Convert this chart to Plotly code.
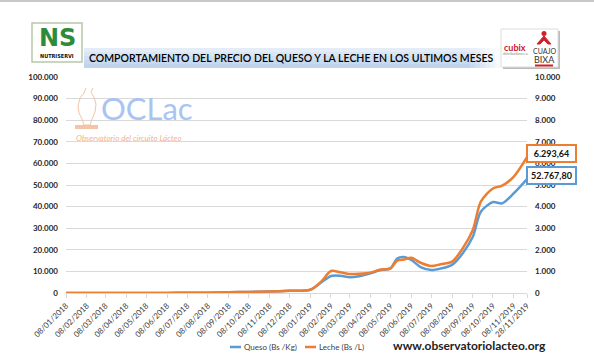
import plotly.graph_objects as go

# ---------------- data ----------------
dates = [
    "2018-01-08", "2018-02-08", "2018-03-08", "2018-04-08", "2018-05-08", "2018-06-08",
    "2018-07-08", "2018-08-08", "2018-09-08", "2018-10-08", "2018-11-08", "2018-12-08",
    "2019-01-08", "2019-01-25", "2019-02-08", "2019-02-22", "2019-03-08", "2019-03-22",
    "2019-04-08", "2019-04-22", "2019-05-08", "2019-05-18", "2019-05-28", "2019-06-08",
    "2019-06-22", "2019-07-08", "2019-07-22", "2019-08-08", "2019-08-24", "2019-09-08",
    "2019-09-20", "2019-10-08", "2019-10-22", "2019-11-08", "2019-11-28",
]
queso = [
    5, 8, 12, 18, 30, 50, 80, 150, 350, 500, 700, 1000,
    1500, 5000, 7900, 8000, 7300, 7800, 9100, 10500, 11400, 16000, 16700, 15300,
    12000, 10600, 11300, 13000, 18400, 26000, 37600, 42100, 41500, 46100, 52767.80,
]
leche = [
    0.5, 0.8, 1.2, 1.8, 3, 5, 8, 15, 35, 50, 70, 100,
    150, 550, 1020, 960, 880, 890, 940, 1080, 1140, 1500, 1550, 1630,
    1400, 1250, 1330, 1450, 2070, 2920, 4230, 4840, 4970, 5380, 6293.64,
]
tick_dates = [
    "2018-01-08", "2018-02-08", "2018-03-08", "2018-04-08", "2018-05-08", "2018-06-08",
    "2018-07-08", "2018-08-08", "2018-09-08", "2018-10-08", "2018-11-08", "2018-12-08",
    "2019-01-08", "2019-02-08", "2019-03-08", "2019-04-08", "2019-05-08", "2019-06-08",
    "2019-07-08", "2019-08-08", "2019-09-08", "2019-10-08", "2019-11-08", "2019-11-28",
]
tick_labels = [
    "08/01/2018", "08/02/2018", "08/03/2018", "08/04/2018", "08/05/2018", "08/06/2018",
    "08/07/2018", "08/08/2018", "08/09/2018", "08/10/2018", "08/11/2018", "08/12/2018",
    "08/01/2019", "08/02/2019", "08/03/2019", "08/04/2019", "08/05/2019", "08/06/2019",
    "08/07/2019", "08/08/2019", "08/09/2019", "08/10/2019", "08/11/2019", "28/11/2019",
]
series_names = ["Queso (Bs /Kg)", "Leche (Bs /L)"]
title_text = "COMPORTAMIENTO DEL PRECIO DEL QUESO Y LA LECHE EN LOS ULTIMOS MESES"

BLUE = "#5B9BD5"
ORANGE = "#ED7D31"
FONT = "Lato"

W, H = 594, 358
ML, MR, MT, MB = 66, 67, 77, 65
PW, PH = W - ML - MR, H - MT - MB


def px(x):
    return (x - ML) / PW


def py(y):
    return (H - MB - y) / PH


def fmt_es(v):
    s = f"{v:,.2f}"
    return s.replace(",", "X").replace(".", ",").replace("X", ".")


fig = go.Figure()
fig.add_trace(go.Scatter(x=dates, y=queso, name=series_names[0], mode="lines",
                         line=dict(color=BLUE, width=2.5, shape="spline", smoothing=0.8),
                         yaxis="y", showlegend=False))
fig.add_trace(go.Scatter(x=dates, y=leche, name=series_names[1], mode="lines",
                         line=dict(color=ORANGE, width=2.5, shape="spline", smoothing=0.8),
                         yaxis="y2", showlegend=False))

shapes = []
annotations = []

# top border line
shapes.append(dict(type="line", xref="paper", yref="paper", x0=px(0), x1=px(W), y0=py(1), y1=py(1),
                   line=dict(color="#C8C8C8", width=2)))

# title band (gradient approximation)
band_cols = ["#E4ECF7", "#DAE6F4", "#D0DFF1", "#C6D9EE", "#BFD4EC"]
for i, c in enumerate(band_cols):
    y0 = 48 + i * 4
    shapes.append(dict(type="rect", xref="paper", yref="paper", layer="below",
                       x0=px(84), x1=px(470), y0=py(y0 + 4), y1=py(y0),
                       fillcolor=c, line=dict(width=0)))
    for j in range(6):
        xa = 470 + j * 5
        op = 1 - (j + 1) / 7
        shapes.append(dict(type="rect", xref="paper", yref="paper", layer="below",
                           x0=px(xa), x1=px(xa + 5), y0=py(y0 + 4), y1=py(y0),
                           fillcolor=c, opacity=op, line=dict(width=0)))

annotations.append(dict(xref="paper", yref="paper", x=px(291), y=py(58), text=title_text,
                        showarrow=False, xanchor="center", yanchor="middle",
                        font=dict(family=FONT, size=10.5, color="#000000", weight=600)))

# NS logo
shapes.append(dict(type="rect", xref="paper", yref="paper", x0=px(32), x1=px(82), y0=py(62), y1=py(23),
                   fillcolor="white", line=dict(color="#B8C8A8", width=1.5)))
annotations.append(dict(xref="paper", yref="paper", x=px(57), y=py(38), text="<b>NS</b>", showarrow=False,
                        xanchor="center", yanchor="middle",
                        font=dict(family="DejaVu Sans", size=24, color="#2E8B3A")))
annotations.append(dict(xref="paper", yref="paper", x=px(57), y=py(56), text="<b>NUTRISERVI</b>", showarrow=False,
                        xanchor="center", yanchor="middle",
                        font=dict(family="DejaVu Sans Condensed", size=5.5, color="#111111")))

# Cubix / Cuajo Bixa logo
shapes.append(dict(type="rect", xref="paper", yref="paper", x0=px(503), x1=px(560), y0=py(69), y1=py(31),
                   fillcolor="#BBBBBB", line=dict(width=0)))
shapes.append(dict(type="rect", xref="paper", yref="paper", x0=px(501), x1=px(558), y0=py(67), y1=py(29),
                   fillcolor="white", line=dict(color="#DDDDDD", width=1)))
annotations.append(dict(xref="paper", yref="paper", x=px(515), y=py(47), text="<b>cubix</b>", showarrow=False,
                        xanchor="center", yanchor="middle",
                        font=dict(family=FONT, size=9, color="#C8202A")))
annotations.append(dict(xref="paper", yref="paper", x=px(515), y=py(54), text="distribuidora c.a.", showarrow=False,
                        xanchor="center", yanchor="middle",
                        font=dict(family=FONT, size=3.5, color="#888888")))
shapes.append(dict(type="path", xref="paper", yref="paper",
                   path=f"M {px(537)},{py(44)} L {px(544)},{py(36)} L {px(551)},{py(44)} L {px(548)},{py(44)} "
                        f"L {px(544)},{py(40)} L {px(540)},{py(44)} Z",
                   fillcolor="#D4202A", line=dict(color="#D4202A", width=1)))
shapes.append(dict(type="circle", xref="paper", yref="paper", x0=px(541.5), x1=px(546.5), y0=py(36), y1=py(31),
                   fillcolor="#D4202A", line=dict(width=0)))
annotations.append(dict(xref="paper", yref="paper", x=px(544), y=py(51), text="CUAJO", showarrow=False,
                        xanchor="center", yanchor="middle",
                        font=dict(family=FONT, size=7, color="#333333")))
annotations.append(dict(xref="paper", yref="paper", x=px(544), y=py(59.5), text="BIXA", showarrow=False,
                        xanchor="center", yanchor="middle",
                        font=dict(family=FONT, size=9, color="#333333")))
shapes.append(dict(type="line", xref="paper", yref="paper", x0=px(535), x1=px(553), y0=py(65.5), y1=py(65.5),
                   line=dict(color="#D4202A", width=2)))

# OCLac watermark
annotations.append(dict(xref="paper", yref="paper", x=px(99), y=py(108), text="OCLac", showarrow=False,
                        xanchor="left", yanchor="middle",
                        font=dict(family=FONT, size=31, color="#A9C4F2")))
annotations.append(dict(xref="paper", yref="paper", x=px(74), y=py(138), text="<i>Observatorio del circuito Lácteo</i>",
                        showarrow=False, xanchor="left", yanchor="middle",
                        font=dict(family=FONT, size=8, color="#F2B28C")))
cow = [(86, 88), (84, 93), (80, 98), (78, 106), (79, 113), (82, 119), (84, 125),
       (90, 125), (92, 119), (95, 112), (96, 104), (94, 97), (91, 92), (93, 88)]
path = "M " + " L ".join(f"{px(a)},{py(b)}" for a, b in cow)
shapes.append(dict(type="path", xref="paper", yref="paper", path=path,
                   line=dict(color="#F5C3A5", width=1)))
shapes.append(dict(type="rect", xref="paper", yref="paper", x0=px(75), x1=px(98), y0=py(129), y1=py(125),
                   fillcolor="#F5C3A5", line=dict(width=0)))

# value labels at end of series
annotations.append(dict(x=dates[-1], y=leche[-1], xref="x", yref="y2", text=f"<b>{fmt_es(leche[-1])}</b>",
                        showarrow=False, xanchor="left", yanchor="middle", xshift=-1, yshift=4,
                        font=dict(family=FONT, size=9, color="#111111"),
                        bgcolor="white", bordercolor=ORANGE, borderwidth=2, borderpad=2, width=43))
annotations.append(dict(x=dates[-1], y=queso[-1], xref="x", yref="y", text=f"<b>{fmt_es(queso[-1])}</b>",
                        showarrow=False, xanchor="left", yanchor="middle", xshift=-1, yshift=4,
                        font=dict(family=FONT, size=9, color="#111111"),
                        bgcolor="white", bordercolor=BLUE, borderwidth=2, borderpad=2, width=43))

# manual legend
leg = [(230, 241, BLUE, series_names[0]), (305, 316, ORANGE, series_names[1])]
for x0, x1, c, name in leg:
    shapes.append(dict(type="line", xref="paper", yref="paper", x0=px(x0), x1=px(x1), y0=py(347), y1=py(347),
                       line=dict(color=c, width=2.5)))
    annotations.append(dict(xref="paper", yref="paper", x=px(x1 + 1), y=py(347), text=name, showarrow=False,
                            xanchor="left", yanchor="middle",
                            font=dict(family=FONT, size=8, color="#404040")))

annotations.append(dict(xref="paper", yref="paper", x=px(469), y=py(345), text="<b>www.observatoriolacteo.org</b>",
                        showarrow=False, xanchor="center", yanchor="middle",
                        font=dict(family=FONT, size=12, color="#222222")))

fig.update_layout(
    width=W, height=H,
    margin=dict(l=ML, r=MR, t=MT, b=MB, pad=0),
    paper_bgcolor="white", plot_bgcolor="white",
    separators=",.",
    showlegend=False,
    shapes=shapes,
    annotations=annotations,
    xaxis=dict(type="date", range=[dates[0], dates[-1]], tickvals=tick_dates, ticktext=tick_labels,
               tickangle=-45, tickfont=dict(family=FONT, size=8, color="#404040"),
               ticks="outside", ticklen=4, tickcolor="#D9D9D9", showgrid=False,
               showline=True, linecolor="#D9D9D9", linewidth=1, zeroline=False),
    yaxis=dict(range=[0, 100000], dtick=10000, tickformat=",d", showgrid=True, gridcolor="#D9D9D9",
               gridwidth=1, zeroline=False, showline=False, ticks="", ticklabelstandoff=7,
               tickfont=dict(family=FONT, size=8, color="#262626", weight="bold")),
    yaxis2=dict(range=[0, 10000], dtick=1000, tickformat=",d", overlaying="y", side="right",
                showgrid=False, zeroline=False, showline=False, ticks="", ticklabelstandoff=7,
                tickfont=dict(family=FONT, size=8, color="#262626", weight="bold")),
)

fig.write_html("out.html", config={"displayModeBar": False},
               post_script="document.body.style.margin='0';document.body.style.padding='0';")
